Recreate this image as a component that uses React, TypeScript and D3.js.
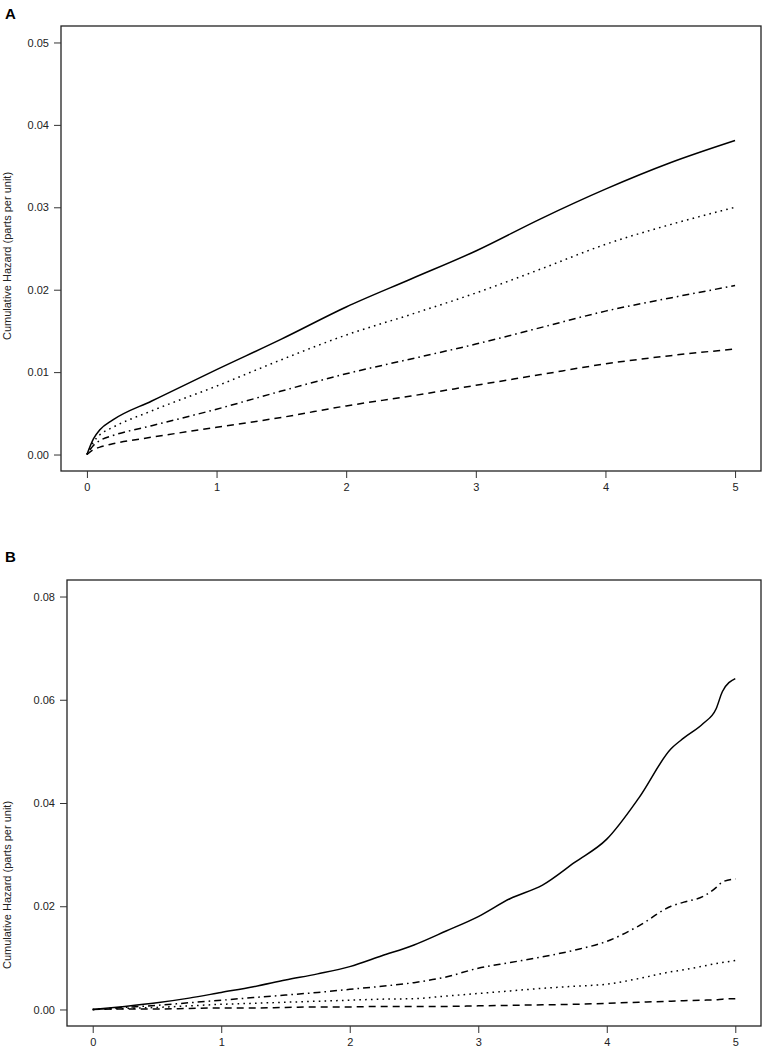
import React, {useEffect, useRef} from 'react'
import * as d3 from 'd3'

// panel A: cumulative hazard curves
const timeA = [0, 0.05, 0.1, 0.2, 0.5, 1, 1.5, 2, 2.5, 3, 3.5, 4, 4.5, 5]
const solidA = [0, 0.0019, 0.003, 0.0042, 0.0065, 0.0103, 0.014, 0.0179, 0.0213, 0.0247, 0.0286, 0.0322, 0.0354, 0.0381]
const dottedA = [0, 0.0015, 0.0024, 0.0033, 0.0053, 0.0083, 0.0115, 0.0145, 0.017, 0.0196, 0.0225, 0.0255, 0.0279, 0.030]
const dotdashA = [0, 0.0011, 0.0017, 0.0023, 0.0035, 0.0055, 0.0077, 0.0098, 0.0116, 0.0134, 0.0154, 0.0174, 0.019, 0.0205]
const dashedA = [0, 0.0006, 0.0009, 0.0013, 0.0021, 0.0033, 0.0045, 0.0059, 0.0071, 0.0084, 0.0097, 0.011, 0.012, 0.0128]

// panel B
const timeB = [0, 0.25, 0.5, 0.75, 1, 1.25, 1.5, 1.75, 2, 2.25, 2.5, 2.75, 3, 3.25, 3.5, 3.75, 4, 4.25, 4.5, 4.6, 4.75, 4.85, 4.9, 5]
const solidB = [0, 0.0006, 0.0013, 0.0022, 0.0033, 0.0044, 0.0057, 0.0069, 0.0083, 0.0104, 0.0125, 0.0152, 0.018, 0.0215, 0.0241, 0.0285, 0.033, 0.041, 0.0505, 0.0526, 0.0554, 0.0582, 0.0616, 0.0641]
const dotdashB = [0, 0.0004, 0.0008, 0.0013, 0.0018, 0.0023, 0.0028, 0.0033, 0.0039, 0.0045, 0.0052, 0.0063, 0.008, 0.0091, 0.0102, 0.0115, 0.0132, 0.0162, 0.020, 0.0208, 0.0219, 0.0236, 0.0247, 0.0253]
const dottedB = [0, 0.0002, 0.0004, 0.0007, 0.001, 0.0012, 0.0014, 0.0016, 0.0018, 0.002, 0.0021, 0.0026, 0.0031, 0.0036, 0.0041, 0.0045, 0.0049, 0.006, 0.0073, 0.0077, 0.0084, 0.0089, 0.0091, 0.0095]
const dashedB = [0, 0.0001, 0.0001, 0.0002, 0.0003, 0.0003, 0.0004, 0.0005, 0.0005, 0.0006, 0.0006, 0.0006, 0.0007, 0.0008, 0.0009, 0.001, 0.0012, 0.0014, 0.0016, 0.0017, 0.0018, 0.0019, 0.002, 0.0021]

const xTicks = [0, 1, 2, 3, 4, 5]
const yTicksA = [0, 0.01, 0.02, 0.03, 0.04, 0.05]
const yTicksB = [0, 0.02, 0.04, 0.06, 0.08]

const dashes: {[k: string]: string | null} = {
  solid: null,
  dotted: '1.6,4.2',
  dotdash: '1.6,4,7,4',
  dashed: '7,5'
}

const W = 765
const H = 1050
const font = 'Liberation Sans, Arial, sans-serif'

function drawPanel(
  root: d3.Selection<SVGSVGElement, unknown, null, undefined>,
  box: {left: number, right: number, top: number, bottom: number},
  times: number[],
  series: {style: string, values: number[]}[],
  yMax: number,
  yTicks: number[],
  letter: string,
  letterY: number,
  titleY: number
) {
  const g = root.append('g')
  // R style 4% padding around the data range
  const x = d3.scaleLinear().domain([-0.2, 5.2]).range([box.left, box.right])
  const pad = yMax * 0.04
  const y = d3.scaleLinear().domain([-pad, yMax + pad]).range([box.bottom, box.top])

  g.append('rect')
    .attr('x', box.left).attr('y', box.top)
    .attr('width', box.right - box.left).attr('height', box.bottom - box.top)
    .attr('fill', 'none').attr('stroke', '#222').attr('stroke-width', 1.3)

  const xAxis = g.append('g')
    .attr('transform', `translate(0,${box.bottom})`)
    .call(d3.axisBottom(x).tickValues(xTicks).tickSize(7).tickPadding(5).tickFormat(d3.format('d')))
  xAxis.select('.domain').remove()

  const yAxis = g.append('g')
    .attr('transform', `translate(${box.left},0)`)
    .call(d3.axisLeft(y).tickValues(yTicks).tickSize(7).tickPadding(5).tickFormat(d3.format('.2f')))
  yAxis.select('.domain').remove()

  g.selectAll('.tick line').attr('stroke', '#333').attr('stroke-width', 1)
  g.selectAll('.tick text').attr('font-family', font).attr('font-size', 11).attr('fill', '#222')

  const line = d3.line<number>()
    .x((_, i) => x(times[i]))
    .y(d => y(d))
    .curve(d3.curveMonotoneX)

  series.forEach(s => {
    const p = g.append('path')
      .attr('d', line(s.values))
      .attr('fill', 'none')
      .attr('stroke', '#000')
      .attr('stroke-width', 1.5)
    if (dashes[s.style]) p.attr('stroke-dasharray', dashes[s.style] as string)
  })

  g.append('text')
    .attr('transform', `translate(11,${titleY}) rotate(-90)`)
    .attr('text-anchor', 'middle')
    .attr('font-family', font)
    .attr('font-size', 11)
    .attr('fill', '#222')
    .text('Cumulative Hazard (parts per unit)')

  g.append('text')
    .attr('x', 5).attr('y', letterY)
    .attr('font-family', font)
    .attr('font-size', 15)
    .attr('font-weight', 'bold')
    .text(letter)
}

export default function App() {
  const ref = useRef<SVGSVGElement>(null)

  useEffect(() => {
    if (!ref.current) return
    const svg = d3.select(ref.current)
    svg.selectAll('*').remove()

    drawPanel(svg, {left: 61, right: 761, top: 26, bottom: 471}, timeA, [
      {style: 'solid', values: solidA},
      {style: 'dotted', values: dottedA},
      {style: 'dotdash', values: dotdashA},
      {style: 'dashed', values: dashedA}
    ], 0.05, yTicksA, 'A', 19, 256)

    drawPanel(svg, {left: 67, right: 761, top: 580, bottom: 1026}, timeB, [
      {style: 'solid', values: solidB},
      {style: 'dotdash', values: dotdashB},
      {style: 'dotted', values: dottedB},
      {style: 'dashed', values: dashedB}
    ], 0.08, yTicksB, 'B', 562, 885)
  }, [])

  return (
    <svg
      ref={ref}
      width={W}
      height={H}
      style={{position: 'absolute', left: 0, top: 0, background: '#fff'}}
    />
  )
}
